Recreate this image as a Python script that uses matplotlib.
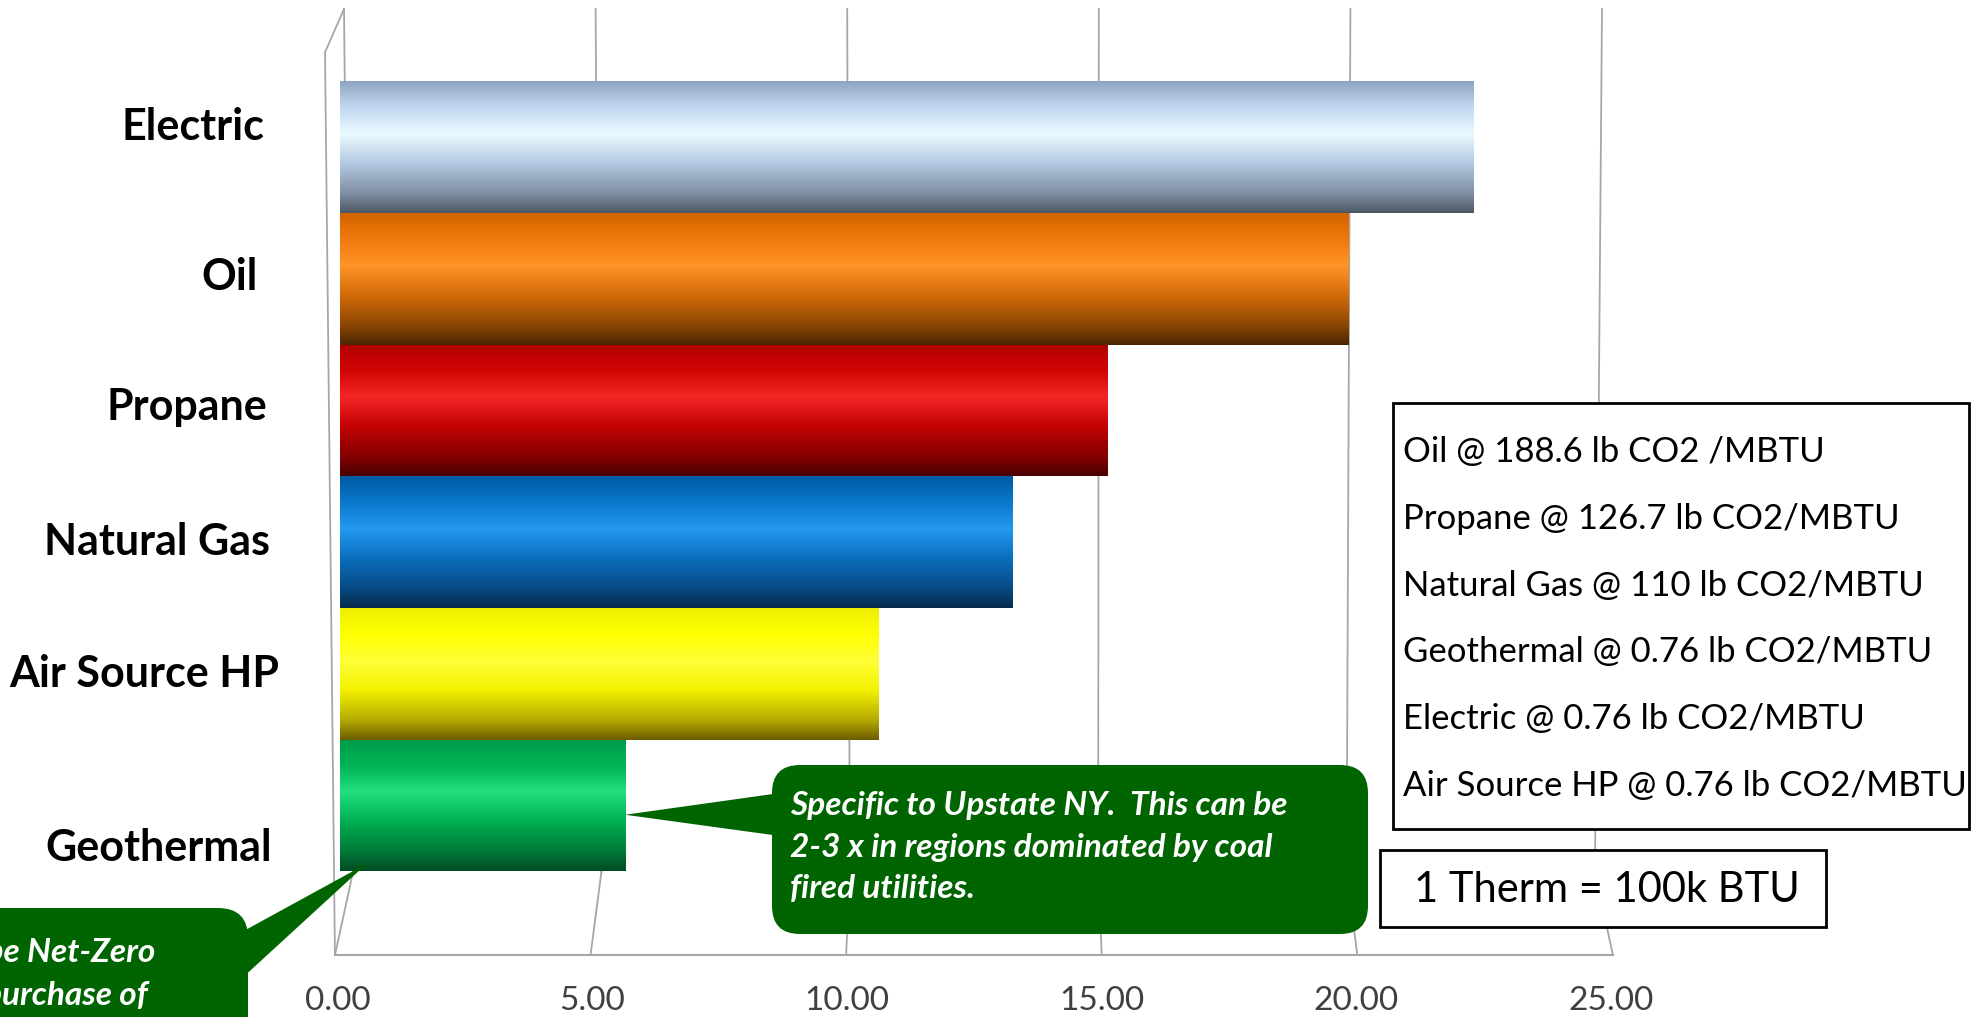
import numpy as np
import matplotlib.pyplot as plt
from matplotlib.colors import LinearSegmentedColormap
from matplotlib.patches import FancyBboxPatch, Polygon, Rectangle

plt.rcParams['font.family'] = ['Lato', 'DejaVu Sans']

# data (bottom to top, as drawn)
fuels = ['Geothermal', 'Air Source HP', 'Natural Gas', 'Propane', 'Oil', 'Electric']
co2 = [5.64, 10.61, 13.25, 15.11, 19.86, 22.30]
xticks = [0, 5, 10, 15, 20, 25]

notes = ['Oil @ 188.6 lb CO2 /MBTU',
         'Propane @ 126.7 lb CO2/MBTU',
         'Natural Gas @ 110 lb CO2/MBTU',
         'Geothermal @ 0.76 lb CO2/MBTU',
         'Electric @ 0.76 lb CO2/MBTU',
         'Air Source HP @ 0.76 lb CO2/MBTU']
therm_note = '1 Therm = 100k BTU'
callout_ny = 'Specific to Upstate NY.  This can be\n2-3 x in regions dominated by coal\nfired utilities.'
callout_nz = ['Geothermal can be Net-Zero', 'with the purchase of']

# cylinder shading per bar (top edge -> bottom edge)
stops = [0, 0.2, 0.4, 0.62, 0.85, 1.0]
shades = [
    ['#009a4a', '#00b455', '#22e07e', '#00b052', '#007a38', '#004c22'],
    ['#eeee00', '#ffff00', '#ffff38', '#f4f200', '#b4aa00', '#6c5c00'],
    ['#005aa4', '#0a78cc', '#2399ef', '#0a6fbe', '#074b84', '#062b4c'],
    ['#b00000', '#d20404', '#f42626', '#c40202', '#860000', '#4a0000'],
    ['#d46300', '#f07a0c', '#ff9428', '#d26b08', '#8c4604', '#4b2402'],
    ['#8ea4c0', '#c2d8f2', '#eafaff', '#b5cae3', '#7f8fa3', '#4d5865'],
]
# label placement tweaks (category axis is drawn in perspective)
label_dx = [-1.30, -1.16, -1.34, -1.39, -1.57, -1.45]
label_dy = [-0.32, 0, 0, 0.03, 0.01, 0.15]

W, H = 1972, 1017
fig = plt.figure(figsize=(W / 100, H / 100), dpi=100)
ax = fig.add_axes([338 / W, (H - 955) / H, 25 * 50.9 / W, (955 - 9) / H])

grad = np.linspace(0, 1, 256).reshape(-1, 1)
for k, (v, cols) in enumerate(zip(co2, shades)):
    cmap = LinearSegmentedColormap.from_list('bar%d' % k, list(zip(stops, cols)))
    ax.imshow(grad, cmap=cmap, extent=(0.04, v, k - 0.5, k + 0.5), aspect='auto',
              origin='upper', interpolation='bilinear', zorder=2)

ax.set_xlim(0, 25)
ax.set_ylim(-1.135, 6.049)

# 3D-ish frame: back wall, floor and left wall
y_front, y_back, y_top = -1.135, -0.505, 6.049
front_x = lambda t: -0.06 + 1.0043 * t
back_top_x = lambda t: 0.118 + 0.9886 * t
back_bot_x = lambda t: 0.295 + 0.976 * t
gc = '#a6a6a6'
for t in xticks:
    ax.plot([back_top_x(t), back_bot_x(t)], [y_top, y_back], color=gc, lw=1.3, zorder=1, clip_on=False)
    ax.plot([back_bot_x(t), front_x(t)], [y_back, y_front], color=gc, lw=1.3, zorder=1, clip_on=False)
ax.plot([front_x(0), front_x(25)], [y_front, y_front], color=gc, lw=1.5, zorder=1, clip_on=False)
ax.plot([-0.255, front_x(0)], [5.72, y_front], color=gc, lw=1.3, zorder=1, clip_on=False)
ax.plot([-0.255, back_top_x(0)], [5.72, y_top], color=gc, lw=1.3, zorder=1, clip_on=False)

ax.set_xticks(xticks)
ax.set_xticklabels(['%.2f' % t for t in xticks])
ax.tick_params(axis='x', length=0, pad=22, labelsize=24, labelcolor='#404040')
ax.set_yticks([])
for s in ax.spines.values():
    s.set_visible(False)
ax.patch.set_alpha(0)

for k, name in enumerate(fuels):
    ax.text(label_dx[k], k + label_dy[k], name, ha='right', va='center',
            fontsize=31, fontweight='bold', color='black', clip_on=False)

# overlay in pixel units for the notes and callouts
ov = fig.add_axes([0, 0, 1, 1], zorder=5)
ov.set_xlim(0, W)
ov.set_ylim(H, 0)
ov.axis('off')
ov.patch.set_alpha(0)


def to_ov(x, y):
    return ov.transData.inverted().transform(ax.transData.transform((x, y)))


green = '#006400'

# Upstate NY callout
ov.add_patch(FancyBboxPatch((772 + 28, 765 + 28), 596 - 56, 169 - 56,
                            boxstyle='round,pad=28', fc=green, ec='none', zorder=6))
tip = to_ov(co2[0], -0.07)
ov.add_patch(Polygon([(780, 793), tip, (780, 836)], closed=True, fc=green, ec='none', zorder=6))
ov.text(790, 847, callout_ny, ha='left', va='center', color='white', fontsize=24,
        fontweight='bold', fontstyle='italic', linespacing=1.5, zorder=7)

# Net-Zero callout (partly off the left edge, as in the source slide)
ov.add_patch(FancyBboxPatch((-200, 908 + 30), 448 - 30, 200,
                            boxstyle='round,pad=30', fc=green, ec='none', zorder=6))
tip2 = to_ov(0.57, -0.44)
ov.add_patch(Polygon([(240, 933), tip2, (240, 980)], closed=True, fc=green, ec='none', zorder=6))
ov.text(155, 952, callout_nz[0], ha='right', va='center', color='white', fontsize=24,
        fontweight='bold', fontstyle='italic', zorder=7)
ov.text(148, 995, callout_nz[1], ha='right', va='center', color='white', fontsize=24,
        fontweight='bold', fontstyle='italic', zorder=7)

# emission factor notes
ov.add_patch(Rectangle((1393, 403), 576, 426, fc='white', ec='black', lw=2, zorder=6))
for i, line in enumerate(notes):
    ov.text(1403, 452 + i * 66.8, line, ha='left', va='center', fontsize=25, zorder=7)

ov.add_patch(Rectangle((1380, 850), 446, 77, fc='white', ec='black', lw=2, zorder=6))
ov.text(1414, 890, therm_note, ha='left', va='center', fontsize=30, zorder=7)

fig.savefig('out.png', dpi=100)
